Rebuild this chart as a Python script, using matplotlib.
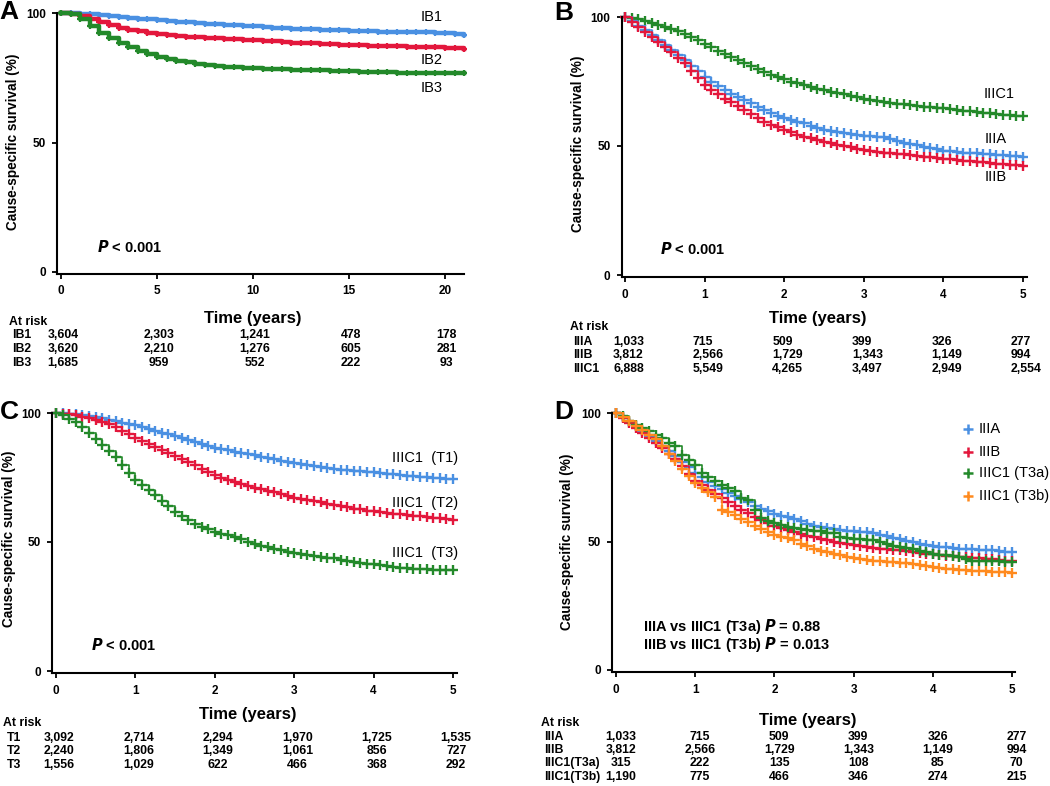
import numpy as np
import matplotlib
matplotlib.use("Agg")
import matplotlib.pyplot as plt
from matplotlib.lines import Line2D
from matplotlib import transforms

plt.rcParams['font.family'] = ['Liberation Sans', 'DejaVu Sans']

W, H = 1050, 786

BLUE = '#4a90e2'
RED = '#e3173c'
GREEN = '#23892a'
ORANGE = '#ff8a1e'

# ---------------- data ----------------
# Panel A (half-year grid, 0-21 years)
a_time = np.arange(0, 21.01, 0.5)
a_ib1 = [100, 100, 99.8, 99.5, 99.2, 98.9, 98.6, 98.2, 97.8, 97.5,
         97.2, 97.0, 96.7, 96.4, 96.1, 95.9, 95.6, 95.4, 95.2, 95.0,
         94.8, 94.6, 94.4, 94.2, 94.0, 93.9, 93.8, 93.6, 93.4, 93.3,
         93.1, 93.0, 92.9, 92.8, 92.7, 92.6, 92.6, 92.5, 92.5, 92.3,
         92.2, 91.8, 91.5]
a_ib2 = [100, 99.8, 98.8, 97.6, 96.4, 95.3, 94.4, 93.6, 92.9, 92.4,
         92.0, 91.6, 91.2, 90.9, 90.6, 90.4, 90.2, 90.0, 89.8, 89.6,
         89.4, 89.2, 89.0, 88.8, 88.6, 88.4, 88.3, 88.1, 87.9, 87.8,
         87.6, 87.5, 87.4, 87.3, 87.2, 87.1, 87.0, 86.9, 86.8, 86.7,
         86.6, 86.3, 86.0]
a_ib3 = [100, 99.8, 97.6, 94.8, 92.4, 90.3, 88.5, 86.8, 85.3, 84.0,
         83.0, 82.3, 81.6, 81.0, 80.4, 79.9, 79.6, 79.3, 79.1, 78.9,
         78.7, 78.5, 78.3, 78.2, 78.1, 78.0, 77.9, 77.8, 77.7, 77.6,
         77.5, 77.4, 77.3, 77.2, 77.1, 77.0, 77.0, 76.9, 76.9, 76.8,
         76.8, 76.8, 76.8]
a_rows = ['IB1', 'IB2', 'IB3']
a_ticks = [0, 5, 10, 15, 20]
a_risk = [[3604, 2303, 1241, 478, 178],
          [3620, 2210, 1276, 605, 281],
          [1685, 959, 552, 222, 93]]

# Panels B-D (monthly grid, 0-5 years)
m_time = np.arange(61) / 12.0
iiia = [100, 98.3, 96.6, 94.8, 92.9, 91.0, 89.0, 87.1, 85.1, 83.2,
        81.0, 78.9, 76.8, 75.0, 73.3, 71.6, 70.3, 69.0, 67.8, 66.5,
        65.2, 63.9, 62.8, 61.7, 60.7, 60.0, 59.4, 58.8, 57.9, 57.0,
        56.2, 55.7, 55.3, 54.9, 54.6, 54.2, 53.9, 53.7, 53.6, 53.4,
        52.7, 52.0, 51.3, 50.8, 50.2, 49.7, 49.2, 48.7, 48.2, 47.9,
        47.7, 47.4, 47.2, 47.1, 46.9, 46.8, 46.6, 46.5, 46.3, 46.1,
        45.9]
iiib = [100, 98.0, 96.1, 94.2, 92.3, 90.3, 88.4, 86.3, 84.1, 82.0,
        79.2, 76.4, 73.6, 71.8, 70.1, 68.4, 66.9, 65.4, 63.9, 62.4,
        60.9, 59.4, 58.3, 57.2, 56.2, 55.3, 54.4, 53.6, 53.0, 52.3,
        51.7, 51.1, 50.5, 50.0, 49.5, 49.0, 48.5, 48.1, 47.8, 47.4,
        47.2, 47.0, 46.8, 46.5, 46.2, 45.9, 45.6, 45.3, 45.0, 44.8,
        44.5, 44.3, 44.1, 43.9, 43.7, 43.5, 43.2, 43.0, 42.8, 42.5,
        42.3]
iiic1 = [100, 99.6, 99.1, 98.5, 97.8, 97.0, 96.1, 95.3, 94.5, 93.6,
         92.3, 91.0, 89.7, 88.3, 87.0, 85.6, 84.4, 83.2, 82.0, 80.9,
         79.8, 78.7, 77.7, 76.7, 75.8, 75.0, 74.3, 73.6, 72.9, 72.2,
         71.6, 71.0, 70.5, 70.0, 69.4, 68.9, 68.4, 68.0, 67.5, 67.1,
         66.8, 66.4, 66.1, 65.8, 65.5, 65.2, 65.0, 64.8, 64.6, 64.3,
         64.0, 63.7, 63.4, 63.2, 62.9, 62.7, 62.4, 62.2, 62.0, 61.8,
         61.7]
b_rows = ['IIIA', 'IIIB', 'IIIC1']
b_risk = [[1033, 715, 509, 399, 326, 277],
          [3812, 2566, 1729, 1343, 1149, 994],
          [6888, 5549, 4265, 3497, 2949, 2554]]

c_t1 = [100, 100, 99.8, 99.5, 99.2, 98.8, 98.4, 97.9, 97.4, 96.9,
        96.3, 95.8, 95.2, 94.5, 93.7, 93.0, 92.3, 91.7, 91.0, 90.3,
        89.5, 88.8, 88.1, 87.3, 86.6, 86.0, 85.5, 84.9, 84.5, 84.0,
        83.6, 83.1, 82.5, 82.0, 81.5, 81.1, 80.6, 80.2, 79.7, 79.3,
        79.0, 78.7, 78.4, 78.1, 77.8, 77.5, 77.4, 77.2, 77.1, 76.8,
        76.5, 76.2, 76.0, 75.7, 75.5, 75.3, 75.1, 74.9, 74.7, 74.6,
        74.4]
c_t2 = [100, 99.8, 99.5, 99.1, 98.6, 98.0, 97.4, 96.5, 95.6, 94.6,
        93.2, 91.8, 90.4, 89.2, 88.0, 86.8, 85.6, 84.4, 83.2, 82.0,
        80.9, 79.7, 78.4, 77.1, 75.8, 75.0, 74.1, 73.3, 72.5, 71.7,
        70.9, 70.4, 69.9, 69.4, 68.7, 67.9, 67.2, 66.7, 66.3, 65.8,
        65.4, 64.9, 64.5, 64.0, 63.4, 62.9, 62.6, 62.2, 61.9, 61.6,
        61.3, 61.0, 60.7, 60.4, 60.1, 59.9, 59.6, 59.4, 59.2, 58.9,
        58.7]
c_t3 = [100, 99.1, 97.8, 96.5, 94.4, 92.3, 90.1, 87.7, 85.3, 82.9,
        79.9, 76.9, 73.9, 72.0, 70.0, 68.1, 65.9, 63.8, 61.6, 60.0,
        58.4, 56.8, 55.8, 54.9, 53.9, 53.2, 52.6, 51.9, 51.0, 50.0,
        49.1, 48.5, 48.0, 47.4, 46.8, 46.3, 45.7, 45.3, 44.8, 44.4,
        44.2, 43.9, 43.7, 43.2, 42.7, 42.2, 41.9, 41.6, 41.3, 41.0,
        40.6, 40.3, 40.1, 39.9, 39.7, 39.6, 39.4, 39.3, 39.2, 39.1,
        39.0]
c_rows = ['T1', 'T2', 'T3']
c_risk = [[3092, 2714, 2294, 1970, 1725, 1535],
          [2240, 1806, 1349, 1061, 856, 727],
          [1556, 1029, 622, 466, 368, 292]]

d_t3a = [100, 98.8, 97.0, 95.5, 94.2, 92.9, 91.6, 90.1, 88.5, 87.0,
         83.8, 81.9, 79.9, 76.6, 75.0, 73.4, 72.0, 71.0, 69.5, 66.9,
         66.0, 62.3, 59.1, 58.0, 57.1, 56.3, 55.6, 55.2, 54.8, 54.5,
         54.2, 53.9, 53.5, 53.2, 51.9, 51.4, 50.9, 50.8, 50.7, 50.6,
         49.8, 49.1, 48.4, 47.9, 47.5, 47.0, 46.4, 45.8, 45.2, 44.9,
         44.7, 44.4, 43.8, 43.1, 42.6, 42.5, 42.4, 42.3, 42.3, 42.2,
         42.2]
d_t3b = [100, 98.5, 96.8, 95.1, 93.4, 91.6, 89.9, 87.0, 84.1, 81.2,
         78.4, 75.5, 72.7, 70.9, 69.2, 67.5, 62.3, 61.4, 60.4, 58.9,
         57.5, 56.1, 54.9, 53.8, 52.6, 51.9, 51.3, 50.6, 49.0, 48.1,
         47.0, 46.4, 45.8, 45.2, 44.6, 44.1, 43.5, 43.2, 42.8, 42.5,
         42.4, 42.2, 42.1, 41.8, 41.6, 41.3, 40.8, 40.4, 39.9, 39.7,
         39.4, 39.2, 39.0, 38.9, 38.7, 38.6, 38.4, 38.3, 38.1, 38.0,
         37.9]
d_rows = ['IIIA', 'IIIB', 'IIIC1(T3a)', 'IIIC1(T3b)']
d_labels = ['IIIA', 'IIIB', 'IIIC1 (T3a)', 'IIIC1 (T3b)']
d_risk = [[1033, 715, 509, 399, 326, 277],
          [3812, 2566, 1729, 1343, 1149, 994],
          [315, 222, 135, 108, 85, 70],
          [1190, 775, 466, 346, 274, 215]]
yr_ticks = [0, 1, 2, 3, 4, 5]

# ---------------- helpers ----------------
fig = plt.figure(figsize=(W / 100, H / 100), dpi=100)


def ftext(x, y, s, **kw):
    return fig.text(x / W, 1 - y / H, s, **kw)


def make_axes(px0, px1, xv1, py0, py100, xlim, ylim=(-0.8, 101)):
    sx = (px1 - px0) / xv1
    left = px0 + xlim[0] * sx
    right = px0 + xlim[1] * sx
    sy = (py0 - py100) / 100.0
    bottom = py0 - ylim[0] * sy
    top = py0 - ylim[1] * sy
    ax = fig.add_axes([left / W, 1 - bottom / H, (right - left) / W, (bottom - top) / H])
    ax.set_xlim(xlim)
    ax.set_ylim(ylim)
    for side in ['top', 'right']:
        ax.spines[side].set_visible(False)
    for side in ['left', 'bottom']:
        ax.spines[side].set_linewidth(1.5)
    ax.spines['left'].set_bounds(ylim[0], 100)
    ax.set_yticks([0, 50, 100])
    ax.tick_params(direction='out', length=3.6, width=1.3, pad=4.5,
                   labelsize=8.5, colors='black')
    ax.set_facecolor('none')
    return ax


def km(ax, t, s, color, lw=1.2, ms=6.5, mew=1.7):
    ax.step(t, s, where='post', color=color, lw=lw, clip_on=False)
    ax.plot(t, s, ls='none', marker='+', color=color, ms=ms, mew=mew, clip_on=False)


def risk_table(ax, ticks, rows, risk, at_xy, label_x, row_ys, dx=0.0, ha='center'):
    ftext(at_xy[0], at_xy[1], 'At risk', fontsize=8.8, fontweight='bold', va='center')
    tr = transforms.blended_transform_factory(ax.transData, fig.transFigure)
    for name, vals, py in zip(rows, risk, row_ys):
        ftext(label_x, py, name, fontsize=8.8, fontweight='bold', va='center')
        for tk, v in zip(ticks, vals):
            fig.text(tk + dx, 1 - py / H, f'{v:,}', transform=tr, fontsize=8.8,
                     fontweight='bold', ha=ha, va='center')


def ylab(x, y):
    ftext(x, y, 'Cause-specific survival (%)', rotation=90, fontsize=9.8,
          fontweight='bold', ha='center', va='center')


def set_ticks(ax, ticks):
    ax.set_xticks(ticks)
    ax.set_xticklabels([str(t) for t in ticks], fontweight='bold')
    ax.set_yticklabels(['0', '50', '100'], fontweight='bold')


# ---------------- Panel A ----------------
axA = make_axes(61, 445, 20, 272, 13, (-0.2, 21.0))
set_ticks(axA, a_ticks)
km(axA, a_time, a_ib1, BLUE, lw=3.2, ms=5, mew=1.6)
km(axA, a_time, a_ib2, RED, lw=3.2, ms=5, mew=1.6)
km(axA, a_time, a_ib3, GREEN, lw=3.2, ms=5, mew=1.6)
for name, py in zip(['IB1', 'IB2', 'IB3'], [17, 60, 88]):
    ftext(432, py, name, fontsize=10.5, ha='center', va='center')
ftext(97, 247, r'$\mathbfit{P}$ < 0.001', fontsize=10.5, fontweight='bold', va='center')
ylab(13, 142)
ftext(253, 318, 'Time (years)', fontsize=12, fontweight='bold', ha='center', va='center')
risk_table(axA, a_ticks, a_rows, a_risk, (9, 322), 12, [335, 349, 363], dx=0.1)
ftext(9, 12, 'A', fontsize=19, fontweight='bold', ha='center', va='center')

# ---------------- Panel B ----------------
axB = make_axes(625, 1023, 5, 275, 17, (-0.04, 5.05), ylim=(-0.9, 101))
set_ticks(axB, yr_ticks)
km(axB, m_time, iiic1, GREEN)
km(axB, m_time, iiia, BLUE)
km(axB, m_time, iiib, RED)
for name, px, py in zip(['IIIC1', 'IIIA', 'IIIB'], [999, 996, 996], [94, 139, 177]):
    ftext(px, py, name, fontsize=10.5, ha='center', va='center')
ftext(660, 249, r'$\mathbfit{P}$ < 0.001', fontsize=10.5, fontweight='bold', va='center')
ylab(578, 144)
ftext(818, 319, 'Time (years)', fontsize=12, fontweight='bold', ha='center', va='center')
risk_table(axB, yr_ticks, b_rows, b_risk, (570, 327), 573, [342, 355, 369],
           dx=-0.15, ha='left')
ftext(564, 13, 'B', fontsize=19, fontweight='bold', ha='center', va='center')

# ---------------- Panel C ----------------
axC = make_axes(56, 453, 5, 671, 413, (-0.05, 5.05), ylim=(-0.9, 101))
set_ticks(axC, yr_ticks)
km(axC, m_time, c_t1, BLUE)
km(axC, m_time, c_t2, RED)
km(axC, m_time, c_t3, GREEN)
for name, py in zip(['IIIC1  (T1)', 'IIIC1  (T2)', 'IIIC1  (T3)'], [458, 503, 553]):
    ftext(458, py, name, fontsize=10.5, ha='right', va='center')
ftext(91, 645, r'$\mathbfit{P}$ < 0.001', fontsize=10.5, fontweight='bold', va='center')
ylab(9, 539)
ftext(248, 715, 'Time (years)', fontsize=12, fontweight='bold', ha='center', va='center')
risk_table(axC, yr_ticks, c_rows, c_risk, (3, 723), 7, [738, 751, 765], dx=0.04)
ftext(9, 412, 'C', fontsize=19, fontweight='bold', ha='center', va='center')

# ---------------- Panel D ----------------
axD = make_axes(616, 1012, 5, 670, 413, (-0.05, 5.04), ylim=(-0.9, 101))
set_ticks(axD, yr_ticks)
d_series = [iiia, iiib, d_t3a, d_t3b]
d_colors = [BLUE, RED, GREEN, ORANGE]
for s, c in zip(d_series, d_colors):
    km(axD, m_time, s, c)
for lab, c, py in zip(d_labels, d_colors, [429, 452, 473, 496]):
    fig.add_artist(Line2D([968 / W], [1 - py / H], transform=fig.transFigure,
                          marker='+', color=c, ms=7, mew=1.8, ls='none'))
    ftext(979, py, lab, fontsize=10.5, va='center')
ftext(643, 627, r'IIIA vs IIIC1 (T3a) $\mathbfit{P}$ = 0.88', fontsize=10.5,
      fontweight='bold', va='center')
ftext(643, 644, r'IIIB vs IIIC1 (T3b) $\mathbfit{P}$ = 0.013', fontsize=10.5,
      fontweight='bold', va='center')
ylab(567, 542)
ftext(808, 720, 'Time (years)', fontsize=12, fontweight='bold', ha='center', va='center')
risk_table(axD, yr_ticks, d_rows, d_risk, (541, 723), 544, [737, 750, 763, 777], dx=0.06)
ftext(564, 412, 'D', fontsize=19, fontweight='bold', ha='center', va='center')

fig.savefig('out.png', dpi=100)
